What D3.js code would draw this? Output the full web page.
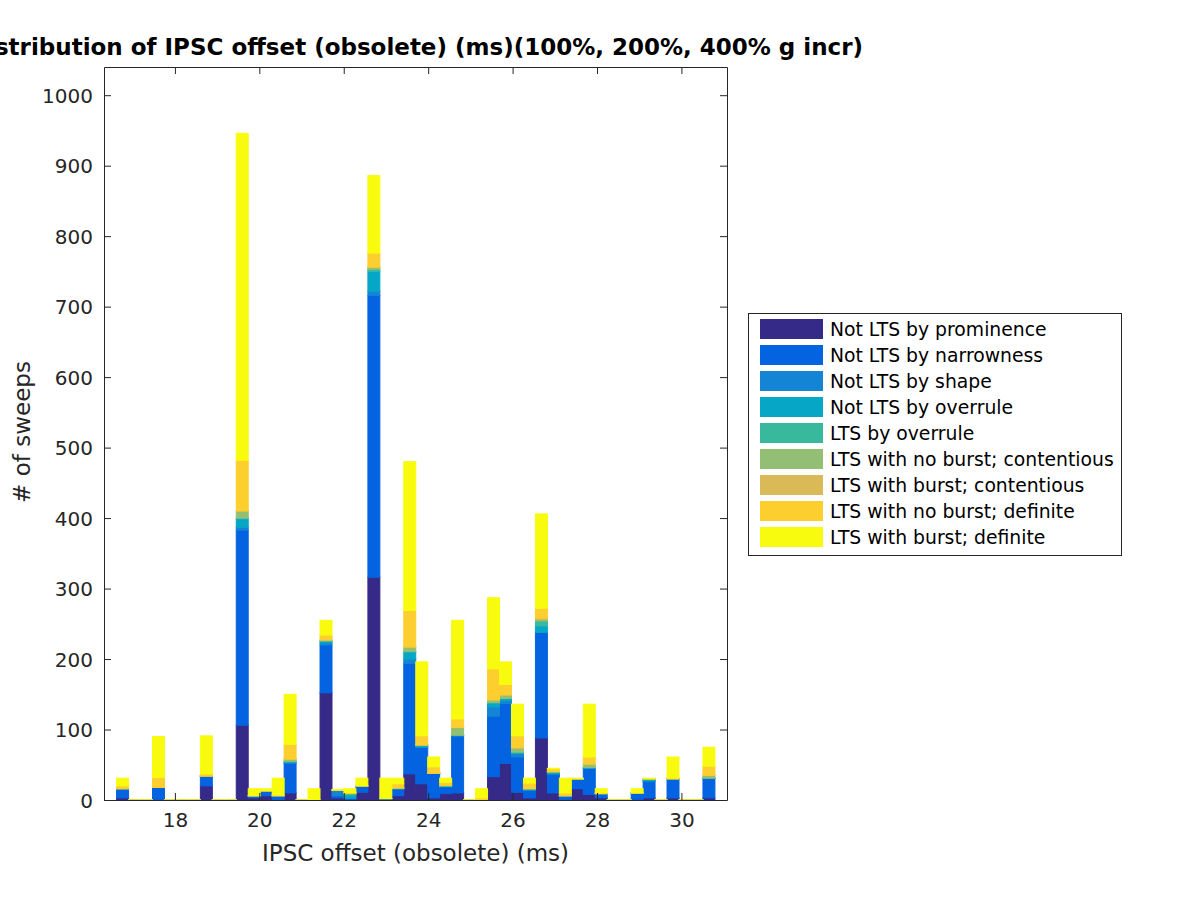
<!DOCTYPE html>
<html>
<head>
<meta charset="utf-8">
<script src="https://cdn.jsdelivr.net/npm/d3@7"></script>
<style>
  html, body { margin: 0; padding: 0; background: #ffffff; }
  svg { display: block; }
  text { font-family: "DejaVu Sans", sans-serif; fill: #262626; }
</style>
</head>
<body>
<script>
// ---------------- DATA ----------------
const binCenters = [16.760,17.044,17.327,17.611,17.894,18.178,18.461,18.745,19.028,19.312,
  19.595,19.879,20.162,20.446,20.729,21.013,21.296,21.580,21.863,22.147,
  22.430,22.714,22.997,23.281,23.564,23.848,24.131,24.415,24.698,24.982,
  25.265,25.549,25.832,26.116,26.399,26.683,26.966,27.250,27.533,27.817,
  28.100,28.384,28.667,28.951,29.234,29.518,29.801,30.085,30.368,30.652];
const binWidth = 0.2835;

const seriesNames = [
  "Not LTS by prominence",
  "Not LTS by narrowness",
  "Not LTS by shape",
  "Not LTS by overrule",
  "LTS by overrule",
  "LTS with no burst; contentious",
  "LTS with burst; contentious",
  "LTS with no burst; definite",
  "LTS with burst; definite"
];
const seriesColors = ["#352a87","#0363e1","#1485d4","#06a7c6","#38b99e","#92bf73","#d9ba56","#fcce2e","#f9fb0e"];

const notLtsProminence = [3,0,0,1,0,0,0,20,0,0, 106,3,6,0,10,0,0,152,3,1, 11,316,0,6,37,23,3,9,10,0, 0,33,52,11,3,88,10,0,16,8, 3,0,0,1,3,0,3,0,0,3];
const notLtsNarrowness = [13,0,0,17,0,0,0,14,0,0, 277,3,7,6,42,0,0,68,3,1, 9,400,2,10,157,52,35,10,81,0, 0,86,85,50,11,150,27,6,14,37, 6,0,0,9,24,0,27,0,0,28];
const notLtsShape = [0,0,0,0,0,0,0,0,0,0, 4,0,0,0,2,0,0,3,8,1, 0,6,0,0,6,0,0,0,0,0, 0,13,4,5,0,0,0,0,0,0, 0,0,0,0,0,0,0,0,0,0];
const notLtsOverrule = [0,0,0,0,0,0,0,0,0,0, 12,0,0,0,0,0,0,2,0,4, 0,28,0,0,10,2,0,0,1,0, 0,6,3,1,2,9,3,0,0,1, 0,0,0,0,2,0,0,0,0,0];
const ltsOverrule = [0,0,0,0,0,0,0,0,0,0, 1,0,0,0,1,0,0,1,0,2, 0,3,0,1,1,1,0,1,0,0, 0,0,0,1,0,7,0,0,0,0, 0,0,0,0,1,0,0,0,0,0];
const ltsNoBurstContentious = [0,0,0,0,0,0,0,0,0,0, 10,0,0,0,3,0,0,1,0,1, 0,3,0,0,6,0,0,1,11,0, 0,4,5,6,0,2,0,0,0,5, 0,0,0,0,0,0,0,0,0,4];
const ltsBurstContentious = [0,0,0,0,0,0,0,0,0,0, 0,0,0,0,0,0,0,0,0,0, 0,0,0,0,0,0,0,0,0,0, 0,0,0,0,0,2,0,0,0,0, 0,0,0,0,0,0,0,0,0,0];
const ltsNoBurstDefinite = [4,0,0,14,0,0,0,3,0,0, 72,0,0,1,21,0,0,7,0,0, 0,20,0,6,52,13,9,4,12,0, 3,44,15,17,8,14,4,4,0,10, 1,0,0,0,0,0,1,0,0,13];
const ltsBurstDefinite = [11,0,0,58,0,0,0,54,0,0, 464,10,3,24,71,0,16,21,1,6, 11,110,29,8,211,105,14,6,140,0, 13,101,32,45,7,134,1,21,1,75, 6,0,0,6,1,0,30,0,0,27];

const xTicks = [18,20,22,24,26,28,30];
const yTicks = [0,100,200,300,400,500,600,700,800,900,1000];

const titleText = "Distribution of IPSC offset (obsolete) (ms)(100%, 200%, 400% g incr)";
const xLabelText = "IPSC offset (obsolete) (ms)";
const yLabelText = "# of sweeps";

// ---------------- CHART ----------------
const W = 1200, H = 900;
const plot = {left: 104, right: 727, top: 67, bottom: 800};
const axisColor = "#262626";

const allSeries = [notLtsProminence, notLtsNarrowness, notLtsShape, notLtsOverrule, ltsOverrule,
  ltsNoBurstContentious, ltsBurstContentious, ltsNoBurstDefinite, ltsBurstDefinite];

const table = binCenters.map((c, i) => {
  const row = {center: c};
  seriesNames.forEach((n, k) => row[n] = allSeries[k][i]);
  return row;
});

const stack = d3.stack().keys(seriesNames)(table);

const x = d3.scaleLinear().domain([16.32, 31.08]).range([plot.left, plot.right]);
const y = d3.scaleLinear().domain([0, 1040]).range([plot.bottom, plot.top]);

const svg = d3.select("body").append("svg").attr("width", W).attr("height", H);
svg.append("rect").attr("width", W).attr("height", H).attr("fill", "#fff");

// bars
const gBars = svg.append("g");
stack.forEach((layer, k) => {
  const g = gBars.append("g");
  const color = seriesColors[k];
  layer.forEach((d, i) => {
    const c = table[i].center;
    const x0 = x(c - binWidth / 2), x1 = x(c + binWidth / 2);
    if (d[1] - d[0] > 0) {
      g.append("rect")
        .attr("x", x0).attr("width", x1 - x0)
        .attr("y", y(d[1])).attr("height", y(d[0]) - y(d[1]))
        .attr("fill", color).attr("stroke", color).attr("stroke-width", 1);
    } else {
      g.append("line")
        .attr("x1", x0 - 0.5).attr("x2", x1 + 0.5)
        .attr("y1", y(d[1])).attr("y2", y(d[1]))
        .attr("stroke", color).attr("stroke-width", 1);
    }
  });
});

// axes box
const tickLen = 7;
const fontTick = 20;
const gx = svg.append("g").attr("transform", `translate(0,${plot.bottom})`)
  .call(d3.axisBottom(x).tickValues(xTicks).tickFormat(d3.format("d")).tickSizeInner(-tickLen).tickSizeOuter(0).tickPadding(13));
const gxTop = svg.append("g").attr("transform", `translate(0,${plot.top})`)
  .call(d3.axisTop(x).tickValues(xTicks).tickFormat("").tickSizeInner(-tickLen).tickSizeOuter(0));
const gy = svg.append("g").attr("transform", `translate(${plot.left},0)`)
  .call(d3.axisLeft(y).tickValues(yTicks).tickFormat(d3.format("d")).tickSizeInner(-tickLen).tickSizeOuter(0).tickPadding(11));
const gyR = svg.append("g").attr("transform", `translate(${plot.right},0)`)
  .call(d3.axisRight(y).tickValues(yTicks).tickFormat("").tickSizeInner(-tickLen).tickSizeOuter(0));

[gx, gxTop, gy, gyR].forEach(g => {
  g.select(".domain").attr("stroke", axisColor).attr("stroke-width", 1);
  g.selectAll(".tick line").attr("stroke", axisColor).attr("stroke-width", 1);
  g.selectAll(".tick text").attr("fill", axisColor).style("font-size", fontTick + "px")
    .style("font-family", "'DejaVu Sans', sans-serif");
});
gy.selectAll(".tick text").attr("dy", "0.36em");

// labels
svg.append("text").attr("x", (plot.left + plot.right) / 2).attr("y", 861)
  .attr("text-anchor", "middle").style("font-size", "23px").text(xLabelText);
svg.append("text").attr("transform", `translate(30,432) rotate(-90)`)
  .attr("text-anchor", "middle").style("font-size", "23px").text(yLabelText);
svg.append("text").attr("x", (plot.left + plot.right) / 2).attr("y", 55)
  .attr("text-anchor", "middle").style("font-size", "23px").style("font-weight", "bold")
  .style("fill", "#000").text(titleText);

// legend
const leg = {x: 748, y: 313, w: 373, h: 242};
const gL = svg.append("g");
gL.append("rect").attr("x", leg.x + 0.5).attr("y", leg.y + 0.5).attr("width", leg.w).attr("height", leg.h)
  .attr("fill", "#fff").attr("stroke", axisColor).attr("stroke-width", 1);
seriesNames.forEach((n, k) => {
  const yy = 319 + k * 26;
  gL.append("rect").attr("x", 760).attr("y", yy).attr("width", 63).attr("height", 20)
    .attr("fill", seriesColors[k]);
  gL.append("text").attr("x", 830).attr("y", yy + 16.5).style("font-size", "18.8px")
    .style("fill", "#000").text(n);
});
</script>
</body>
</html>
